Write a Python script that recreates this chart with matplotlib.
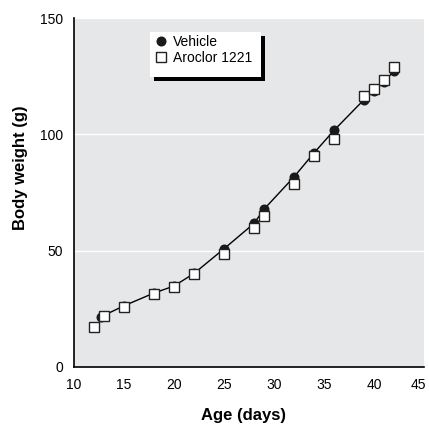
import numpy as np
import matplotlib
matplotlib.use("Agg")
import matplotlib.pyplot as plt
import matplotlib.transforms as mtransforms
from matplotlib.patches import Rectangle

plt.rcParams['font.family'] = ['Liberation Sans Narrow', 'Liberation Sans', 'DejaVu Sans']

# vehicle group (filled circles)
veh_days = [12.7, 15, 18, 20, 22, 25, 28, 29, 32, 34, 36, 39, 40, 41, 42]
veh_weight = [21.6, 26.3, 31.8, 34.8, 40.2, 50.8, 61.7, 67.8, 81.7, 92.0, 101.7, 114.9, 118.6, 122.6, 127.2]

# Aroclor 1221 group (open squares)
aro_days = [12, 13, 15, 18, 20, 22, 25, 28, 29, 32, 34, 36, 39, 40, 41, 42]
aro_weight = [17.3, 21.9, 25.9, 31.5, 34.5, 39.8, 48.6, 59.7, 64.8, 78.5, 90.6, 98.2, 116.3, 119.4, 123.2, 128.9]

xticks = [10, 15, 20, 25, 30, 35, 40, 45]
yticks = [0, 50, 100, 150]

fig = plt.figure(figsize=(4.29, 4.25), dpi=100)
ax = fig.add_axes([74/429, 58/425, 350/429, 349/425])
ax.set_facecolor("#e6e7e8")

ax.set_xlim(10, 45)
ax.set_ylim(0, 150)
ax.set_xticks(xticks)
ax.set_yticks(yticks)
ax.tick_params(length=0, labelsize=10, pad=8)
ax.tick_params(axis='y', pad=8)
ax.yaxis.grid(True, color="white", linewidth=1)
ax.set_axisbelow(True)

for s in ["top", "right"]:
    ax.spines[s].set_visible(False)
for s in ["left", "bottom"]:
    ax.spines[s].set_linewidth(1.2)

# nudge the last x tick label so it stays inside the picture
fig.canvas.draw()
last = ax.get_xticklabels()[-1]
last.set_transform(last.get_transform() + mtransforms.ScaledTranslation(-4/72, 0, fig.dpi_scale_trans))

ax.plot(veh_days, veh_weight, color="black", linewidth=1, zorder=2)
ax.plot(veh_days, veh_weight, "o", color="#1a1a1a", markersize=6.2, zorder=3,
        linestyle="none", label="Vehicle")
ax.plot(aro_days, aro_weight, "s", markerfacecolor="white", markeredgecolor="#222222",
        markersize=6.8, markeredgewidth=1, zorder=4, linestyle="none", label="Aroclor 1221")

ax.set_xlabel("Age (days)", fontsize=12, fontweight="bold")
ax.set_ylabel("Body weight (g)", fontsize=12, fontweight="bold")
ax.xaxis.set_label_coords(0.483, -0.117)
ax.yaxis.set_label_coords(-0.13, 0.57)

# legend box with black drop shadow
shadow = Rectangle((154/429, 1 - 81/425), 111/429, 45/425, transform=fig.transFigure,
                   facecolor="black", edgecolor="none", zorder=5)
box = Rectangle((150/429, 1 - 77/425), 111/429, 45/425, transform=fig.transFigure,
                facecolor="white", edgecolor="none", zorder=6)
fig.patches.extend([shadow, box])
leg = fig.legend(loc="upper left", bbox_to_anchor=(150/429, 1 - 31/425),
                 frameon=False, fontsize=10, handletextpad=0.35, borderaxespad=0,
                 handlelength=1.0, labelspacing=0.1, borderpad=0.3)
leg.set_zorder(7)

plt.savefig("out.png", dpi=100)
